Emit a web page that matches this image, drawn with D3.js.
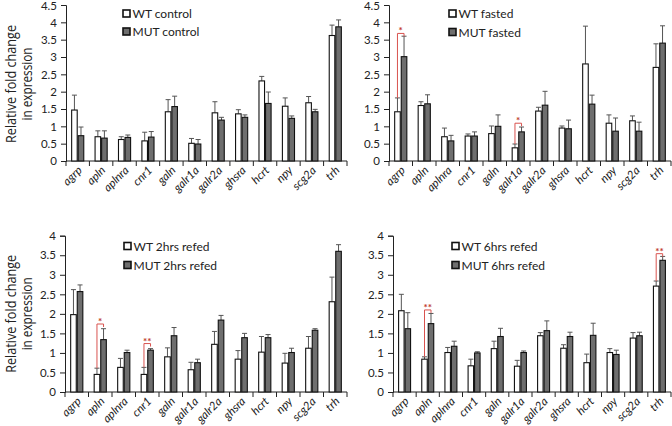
<!DOCTYPE html>
<html><head><meta charset="utf-8">
<script src="https://cdn.jsdelivr.net/npm/d3@7"></script>
<style>body{margin:0;background:#fff}svg{display:block}</style>
</head><body>
<svg id="c" width="672" height="426"></svg>
<script>
const genes = ["agrp","apln","aplnra","cnr1","galn","galr1a","galr2a","ghsra","hcrt","npy","scg2a","trh"];

const controlWT    = [1.47,0.70,0.62,0.58,1.42,0.51,1.39,1.36,2.31,1.58,1.68,3.62];
const controlWTerr = [0.43,0.17,0.08,0.25,0.35,0.14,0.32,0.12,0.13,0.24,0.18,0.30];
const controlMUT   = [0.73,0.66,0.68,0.69,1.57,0.49,1.18,1.26,1.66,1.23,1.42,3.87];
const controlMUTerr= [0.25,0.21,0.07,0.16,0.30,0.13,0.08,0.07,0.33,0.07,0.07,0.20];

const fastedWT     = [1.42,1.60,0.70,0.72,0.79,0.38,1.44,0.95,2.80,1.09,1.16,2.70];
const fastedWTerr  = [0.40,0.11,0.25,0.06,0.22,0.11,0.11,0.06,1.09,0.24,0.14,0.68];
const fastedMUT    = [3.01,1.65,0.58,0.72,1.00,0.84,1.61,0.93,1.64,0.86,0.86,3.40];
const fastedMUTerr = [0.59,0.26,0.16,0.12,0.33,0.14,0.40,0.25,0.26,0.38,0.26,0.50];

const r2WT         = [1.98,0.45,0.63,0.45,0.90,0.57,1.22,0.84,1.02,0.74,1.12,2.31];
const r2WTerr      = [0.64,0.16,0.23,0.18,0.23,0.19,0.33,0.22,0.40,0.25,0.30,0.63];
const r2MUT        = [2.57,1.34,1.01,1.07,1.44,0.75,1.84,1.39,1.39,1.01,1.58,3.60];
const r2MUTerr     = [0.17,0.28,0.06,0.04,0.21,0.09,0.12,0.11,0.08,0.11,0.04,0.17];

const r6WT         = [2.08,0.84,1.01,0.67,1.11,0.66,1.44,1.12,0.75,1.01,1.38,2.71];
const r6WTerr      = [0.42,0.06,0.13,0.17,0.19,0.15,0.08,0.09,0.22,0.10,0.14,0.13];
const r6MUT        = [1.62,1.75,1.17,1.00,1.42,1.01,1.57,1.42,1.45,0.96,1.44,3.37];
const r6MUTerr     = [0.41,0.26,0.13,0.03,0.21,0.04,0.25,0.11,0.31,0.11,0.09,0.10];

const ticks45 = [0,0.5,1,1.5,2,2.5,3,3.5,4,4.5];
const ticks40 = [0,0.5,1,1.5,2,2.5,3,3.5,4];
const tickLabels45 = ["0","0.5","1","1.5","2","2.5","3","3.5","4","4.5"];
const tickLabels40 = ["0","0.5","1","1.5","2","2.5","3","3.5","4"];

const legendWT  = ["WT control","WT fasted","WT 2hrs refed","WT 6hrs refed"];
const legendMUT = ["MUT control","MUT fasted","MUT 2hrs refed","MUT 6hrs refed"];

// significance: panel index, gene, label, bracket top value
const sigPanel = [1,1,2,2,3,3];
const sigGene  = ["agrp","galr1a","apln","cnr1","apln","trh"];
const sigLabel = ["*","*","*","**","**","**"];
const sigTop   = [3.68,1.09,1.74,1.24,2.10,3.54];

const panels = [
  {wt:controlWT,wte:controlWTerr,mut:controlMUT,mute:controlMUTerr,x0:66,x1:347,yT:5,y0:161,max:4.5,ticks:ticks45,tl:tickLabels45,ylab:true,lx:122,ly:[14,32]},
  {wt:fastedWT,wte:fastedWTerr,mut:fastedMUT,mute:fastedMUTerr,x0:389,x1:671,yT:5,y0:161,max:4.5,ticks:ticks45,tl:tickLabels45,ylab:false,lx:448,ly:[14,32.5]},
  {wt:r2WT,wte:r2WTerr,mut:r2MUT,mute:r2MUTerr,x0:65,x1:347,yT:235.7,y0:392,max:4,ticks:ticks40,tl:tickLabels40,ylab:true,lx:123,ly:[246.5,265.5]},
  {wt:r6WT,wte:r6WTerr,mut:r6MUT,mute:r6MUTerr,x0:393,x1:671,yT:235.7,y0:392,max:4,ticks:ticks40,tl:tickLabels40,ylab:false,lx:451,ly:[246.5,265.5]}
];

const svg = d3.select("#c");
const FONT = "Lato, 'Open Sans', sans-serif";

panels.forEach((p,pi)=>{
  const g = svg.append("g");
  const x = d3.scaleBand().domain(genes).range([p.x0,p.x1]).paddingInner(0.44).paddingOuter(0.22);
  const y = d3.scaleLinear().domain([0,p.max]).range([p.y0,p.yT]);
  const bw = x.bandwidth()/2;

  // y axis
  const ya = d3.axisLeft(y).tickValues(p.ticks).tickSize(5).tickPadding(4).tickFormat((d,i)=>p.tl[i]);
  const yg = g.append("g").attr("transform",`translate(${p.x0},0)`).call(ya);
  yg.select(".domain").attr("stroke","#222");
  yg.selectAll(".tick line").attr("stroke","#222");
  yg.selectAll(".tick text").attr("font-family",FONT).attr("font-size","11.5px").attr("fill","#222");
  yg.selectAll(".tick text").filter(d=>d===4.5).attr("dy","0.4em");

  // x axis baseline with boundary ticks
  g.append("line").attr("x1",p.x0).attr("x2",p.x1).attr("y1",p.y0).attr("y2",p.y0).attr("stroke","#222");
  const bounds = d3.range(genes.length+1).map(i=>p.x0 + i*(p.x1-p.x0)/genes.length);
  g.selectAll(".xt").data(bounds).join("line")
    .attr("x1",d=>d).attr("x2",d=>d).attr("y1",p.y0).attr("y2",p.y0+5).attr("stroke","#222");

  // bars
  const series = [
    {v:p.wt,e:p.wte,off:0,fill:"#ffffff"},
    {v:p.mut,e:p.mute,off:bw,fill:"#6e6e6e"}
  ];
  series.forEach(s=>{
    g.selectAll(null).data(genes).join("line")
      .attr("x1",d=>x(d)+s.off+bw/2).attr("x2",d=>x(d)+s.off+bw/2)
      .attr("y1",(d,i)=>y(s.v[i])).attr("y2",(d,i)=>y(s.v[i]+s.e[i]))
      .attr("stroke","#555").attr("stroke-width",1);
    g.selectAll(null).data(genes).join("line")
      .attr("x1",d=>x(d)+s.off+bw/2-2.5).attr("x2",d=>x(d)+s.off+bw/2+2.5)
      .attr("y1",(d,i)=>y(s.v[i]+s.e[i])).attr("y2",(d,i)=>y(s.v[i]+s.e[i]))
      .attr("stroke","#555").attr("stroke-width",1);
  });
  series.forEach(s=>{
    g.selectAll(null).data(genes).join("rect")
      .attr("x",d=>x(d)+s.off+0.5).attr("width",bw-1)
      .attr("y",(d,i)=>y(s.v[i])).attr("height",(d,i)=>y(0)-y(s.v[i]))
      .attr("fill",s.fill).attr("stroke","#111").attr("stroke-width",1.1);
  });

  // x labels
  g.selectAll(".xl").data(genes).join("text")
    .attr("transform",d=>`translate(${x(d)+x.bandwidth()/2+5},${p.y0+10}) rotate(-45)`)
    .attr("text-anchor","end").attr("font-family",FONT).attr("font-style","italic")
    .attr("font-size","11.5px").attr("fill","#222").text(d=>d);

  // significance brackets
  sigPanel.forEach((sp,k)=>{
    if(sp!==pi) return;
    const gname = sigGene[k];
    const gi = genes.indexOf(gname);
    const xl = x(gname)+bw/2, xr = x(gname)+bw+bw/2;
    const yb = y(p.wt[gi]+p.wte[gi]);
    const yt = y(sigTop[k]);
    g.append("path").attr("d",`M${xl},${yb}V${yt}H${xr}V${yt+3}`)
      .attr("fill","none").attr("stroke","#d9534f").attr("stroke-width",1);
    g.append("text").attr("x",(xl+xr)/2).attr("y",yt+1).attr("text-anchor","middle")
      .attr("font-family",FONT).attr("font-weight","bold").attr("font-size","10px")
      .attr("fill","#c0392b").text(sigLabel[k]);
  });

  // legend
  [[legendWT[pi],"#ffffff"],[legendMUT[pi],"#6e6e6e"]].forEach((L,j)=>{
    const cy = p.ly[j];
    g.append("rect").attr("x",p.lx+1).attr("y",cy-4).attr("width",7).attr("height",7)
      .attr("fill",L[1]).attr("stroke","#111").attr("stroke-width",1.6);
    g.append("text").attr("x",p.lx+10.5).attr("y",cy+4).attr("font-family",FONT)
      .attr("font-size","12px").attr("fill","#222").text(L[0]);
  });

  // y label
  if(p.ylab){
    const cy = (p.yT+p.y0)/2 + (pi===0?1:0);
    g.append("text").attr("transform",`translate(16,${cy}) rotate(-90)`).attr("text-anchor","middle")
      .attr("font-family","'Open Sans', sans-serif").attr("font-size","15px").attr("fill","#222")
      .attr("textLength",118).attr("lengthAdjust","spacingAndGlyphs").text("Relative fold change");
    g.append("text").attr("transform",`translate(32,${cy}) rotate(-90)`).attr("text-anchor","middle")
      .attr("font-family","'Open Sans', sans-serif").attr("font-size","15px").attr("fill","#222")
      .attr("textLength",73).attr("lengthAdjust","spacingAndGlyphs").text("in expression");
  }
});
</script>
</body></html>
